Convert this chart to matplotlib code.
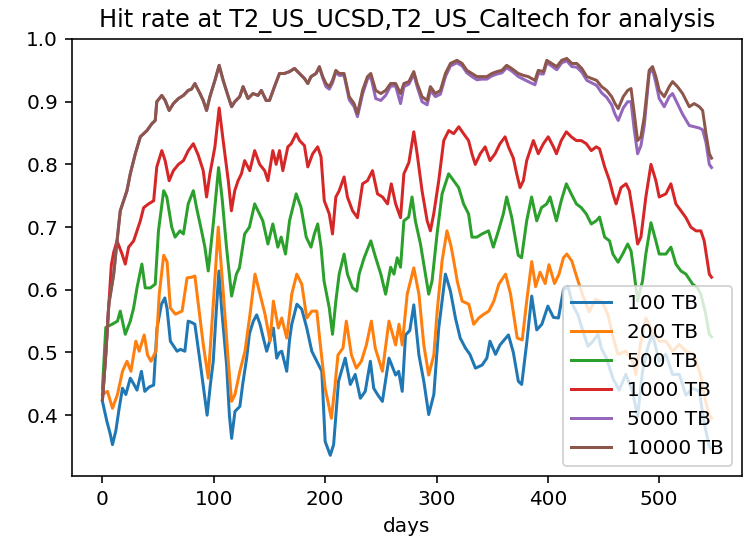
import matplotlib
matplotlib.use("Agg")
import matplotlib.pyplot as plt

# cache sizes shown in the legend
labels = ['100 TB', '200 TB', '500 TB', '1000 TB', '5000 TB', '10000 TB']

days_100 = [0, 4, 7, 9, 12, 15, 18, 21, 25, 28, 31, 35, 38, 42, 46, 49, 53, 56, 58, 61,
            64, 67, 70, 74, 77, 80, 83, 87.6, 91, 94, 97, 99.5, 102, 104.6, 107, 111.5, 114,
            116, 119, 123.4, 126, 129.5, 132, 135.5, 138.5, 141.5, 144.5, 147.5, 150.5, 153.5,
            156.5, 159, 161, 165.5, 168, 170, 174.6, 179, 183.5, 188, 192.5, 197, 200, 204.6,
            207.6, 212, 218, 222.6, 227, 231.6, 236, 240.6, 243.6, 247, 251.4, 257.3, 263.3,
            266, 269.2, 272.2, 276, 279.6, 284.2, 288.6, 293, 297.6, 302, 308, 312.5, 317,
            321.3, 326, 330, 335, 341, 345.2, 348, 353, 357, 364.6, 369, 373.5, 376.5, 381,
            385.5, 390, 394.6, 400, 405, 409.5, 414, 418, 422.6, 427, 431.5, 436, 440.5, 445,
            448, 452.6, 458.6, 464, 470, 476, 480.6, 485, 490, 494, 500, 506, 512, 518, 524,
            530, 536, 540.7, 545, 547]
hit_100 = [0.422, 0.39, 0.37, 0.353, 0.375, 0.411, 0.443, 0.433, 0.459, 0.45, 0.44, 0.47,
           0.438, 0.445, 0.448, 0.539, 0.577, 0.587, 0.57, 0.518, 0.51, 0.502, 0.505, 0.502,
           0.55, 0.548, 0.545, 0.486, 0.44, 0.40, 0.45, 0.486, 0.56, 0.63, 0.57, 0.48, 0.40,
           0.363, 0.406, 0.414, 0.45, 0.491, 0.53, 0.55, 0.56, 0.545, 0.523, 0.502, 0.52,
           0.539, 0.491, 0.50, 0.502, 0.47, 0.52, 0.545, 0.577, 0.569, 0.539, 0.502, 0.486,
           0.47, 0.358, 0.336, 0.353, 0.454, 0.491, 0.449, 0.465, 0.427, 0.438, 0.486, 0.443,
           0.433, 0.422, 0.491, 0.464, 0.47, 0.438, 0.528, 0.535, 0.576, 0.496, 0.454, 0.401,
           0.433, 0.539, 0.625, 0.598, 0.555, 0.523, 0.507, 0.497, 0.475, 0.48, 0.491, 0.518,
           0.497, 0.512, 0.528, 0.50, 0.454, 0.449, 0.515, 0.59, 0.536, 0.545, 0.574, 0.556,
           0.555, 0.60, 0.605, 0.575, 0.56, 0.534, 0.51, 0.518, 0.529, 0.507, 0.491, 0.458,
           0.44, 0.465, 0.438, 0.398, 0.47, 0.51, 0.529, 0.486, 0.497, 0.465, 0.465, 0.432,
           0.443, 0.438, 0.385, 0.35, 0.345]

days_200 = [0, 4.5, 9, 13.5, 18, 22, 25.6, 30, 33, 37.5, 40.5, 43.6, 48, 51, 55, 58, 61,
            65.5, 71.5, 76, 80, 83, 87.6, 90.6, 95, 99.5, 104, 108.6, 113, 116, 119, 123.4,
            128, 132.5, 137, 141.5, 146, 150.5, 153.5, 158, 161, 165.5, 170, 174.5, 179,
            183.5, 188, 192.5, 195, 200, 205.6, 208.6, 211.5, 216, 219, 223.6, 228, 232.5,
            237, 241.5, 245, 251.4, 257.3, 263.3, 266.3, 269.2, 273.7, 279.6, 284.2, 288.6,
            293, 297.6, 300.6, 305, 309.4, 313, 315.5, 318.6, 323, 329, 333.4, 338, 342.4,
            347, 351.5, 356, 362, 366.5, 372.5, 377, 381, 385.5, 389, 393, 397.6, 401, 406,
            410, 414, 417, 421.5, 426, 431, 437, 443, 449, 454, 458.5, 463, 470, 476, 479,
            483.6, 488, 494, 500, 506, 512, 518, 524, 531, 537, 541.6, 545, 547]
hit_200 = [0.433, 0.438, 0.411, 0.433, 0.47, 0.486, 0.47, 0.518, 0.502, 0.528, 0.496,
           0.486, 0.502, 0.593, 0.655, 0.645, 0.571, 0.561, 0.566, 0.619, 0.62, 0.622, 0.555,
           0.512, 0.459, 0.577, 0.70, 0.593, 0.486, 0.422, 0.433, 0.47, 0.502, 0.561, 0.625,
           0.593, 0.561, 0.518, 0.582, 0.539, 0.555, 0.523, 0.593, 0.625, 0.609, 0.555, 0.566,
           0.566, 0.523, 0.443, 0.395, 0.443, 0.496, 0.507, 0.55, 0.496, 0.475, 0.486, 0.512,
           0.55, 0.507, 0.47, 0.55, 0.512, 0.545, 0.512, 0.593, 0.635, 0.593, 0.512, 0.464,
           0.496, 0.566, 0.646, 0.694, 0.67, 0.646, 0.614, 0.582, 0.577, 0.545, 0.555, 0.561,
           0.566, 0.582, 0.609, 0.625, 0.593, 0.523, 0.52, 0.582, 0.645, 0.605, 0.628, 0.61,
           0.64, 0.61, 0.625, 0.651, 0.657, 0.646, 0.62, 0.593, 0.565, 0.585, 0.58, 0.56,
           0.525, 0.497, 0.502, 0.486, 0.465, 0.518, 0.555, 0.534, 0.518, 0.518, 0.502, 0.513,
           0.502, 0.497, 0.465, 0.422, 0.40, 0.395]

days_500 = [0, 3, 8.6, 13.5, 16, 20.5, 25, 28, 31, 35.4, 38.4, 43, 47.4, 50.3, 55, 57.8,
            62.2, 65.2, 69.6, 72.7, 77, 81.6, 84.5, 89, 92, 95, 99.5, 104.3, 107.5, 111.4,
            116, 120.3, 123, 127.7, 132, 136.7, 139.7, 144, 148.6, 153, 157.5, 160.5, 164.4,
            168, 174, 178.4, 183, 187.3, 190.3, 193.3, 196.3, 199, 203.7, 206.6, 209.6, 212.6,
            217, 220, 224.6, 228.4, 230.5, 235, 241, 245.4, 250, 254.3, 258.8, 261.8, 264.7,
            267.7, 270.7, 275, 278, 281, 285.6, 290, 293, 296, 300.5, 305, 310.9, 315.4,
            319.9, 324.3, 328.8, 331.8, 336.3, 340.8, 346.7, 351, 355.6, 360, 363, 367.5,
            373.4, 376.4, 381, 385.4, 390, 394.3, 399, 402, 407.7, 412, 416.6, 421, 425.6, 430,
            434.5, 439, 443.4, 446.4, 451, 455.4, 458.4, 463, 467.2, 471.7, 474.7, 477.6,
            480.6, 485, 488, 492.6, 497, 500, 506, 510.5, 515, 519.5, 524, 530, 534.4, 537.4,
            541.8, 545, 547]
hit_500 = [0.443, 0.54, 0.545, 0.55, 0.566, 0.529, 0.55, 0.571, 0.603, 0.641, 0.603, 0.603,
           0.609, 0.694, 0.758, 0.748, 0.70, 0.684, 0.694, 0.689, 0.737, 0.758, 0.731, 0.694,
           0.668, 0.63, 0.705, 0.795, 0.745, 0.668, 0.59, 0.625, 0.635, 0.689, 0.70, 0.737,
           0.726, 0.71, 0.673, 0.705, 0.668, 0.684, 0.657, 0.71, 0.753, 0.731, 0.684, 0.668,
           0.689, 0.705, 0.668, 0.614, 0.571, 0.529, 0.582, 0.625, 0.657, 0.625, 0.603, 0.598,
           0.625, 0.651, 0.678, 0.651, 0.625, 0.593, 0.636, 0.625, 0.651, 0.636, 0.71, 0.716,
           0.748, 0.71, 0.673, 0.625, 0.593, 0.614, 0.689, 0.753, 0.785, 0.774, 0.763, 0.737,
           0.721, 0.684, 0.684, 0.689, 0.694, 0.668, 0.694, 0.721, 0.748, 0.716, 0.655, 0.651,
           0.71, 0.748, 0.71, 0.731, 0.737, 0.748, 0.71, 0.742, 0.769, 0.753, 0.737, 0.731,
           0.721, 0.705, 0.71, 0.716, 0.684, 0.678, 0.657, 0.644, 0.657, 0.673, 0.662, 0.625,
           0.582, 0.614, 0.657, 0.707, 0.678, 0.657, 0.657, 0.668, 0.641, 0.63, 0.625, 0.609,
           0.603, 0.593, 0.561, 0.529, 0.525]

days_1000 = [0, 3, 5.7, 8, 10.1, 13.1, 17.6, 20.5, 23.5, 28, 31, 34, 37, 41.4, 46, 48.8,
             53.3, 56.3, 59.9, 63.7, 68.2, 72.7, 77.1, 81.6, 86, 90.5, 93.5, 96.5, 101, 104.8,
             108.4, 113, 115.8, 118.8, 121.8, 124.8, 127.7, 132.3, 136.7, 141.2, 145.7, 148.6,
             153, 156, 159, 162, 166.5, 169.5, 174, 177, 181.4, 184.4, 188.8, 193.3, 196.3,
             199.2, 203.7, 206.6, 209.6, 212.6, 217, 220, 224.6, 229, 233.6, 238, 242.5, 247,
             251.5, 256, 259.4, 263.3, 267.7, 270.7, 275.2, 279.6, 282.6, 287, 291.6, 294.5,
             297.5, 302, 306.5, 311, 315.4, 320, 324.3, 328.8, 331.8, 334.8, 339.3, 343.7, 348,
             352.6, 357, 361.6, 364.6, 369, 372, 375, 378, 381, 387, 391.4, 396, 400.3, 405,
             407.7, 412, 416.6, 421, 425.6, 430, 434.5, 439, 443.4, 446.4, 451, 455.4, 458.4,
             461.3, 465.7, 470.2, 473.2, 477.6, 480.6, 483.6, 488, 492.6, 497, 500, 506, 510.5,
             515, 519.5, 524, 528.4, 533, 537.4, 540.4, 545, 547]
hit_1000 = [0.425, 0.50, 0.577, 0.64, 0.66, 0.678, 0.657, 0.641, 0.668, 0.678, 0.694, 0.71,
            0.731, 0.737, 0.742, 0.796, 0.822, 0.806, 0.774, 0.79, 0.80, 0.806, 0.822, 0.833,
            0.815, 0.79, 0.748, 0.785, 0.828, 0.89, 0.838, 0.774, 0.726, 0.758, 0.774, 0.785,
            0.806, 0.79, 0.822, 0.80, 0.79, 0.774, 0.822, 0.80, 0.822, 0.79, 0.828, 0.833,
            0.849, 0.838, 0.83, 0.796, 0.817, 0.828, 0.812, 0.742, 0.721, 0.689, 0.748, 0.758,
            0.78, 0.748, 0.726, 0.715, 0.769, 0.774, 0.79, 0.753, 0.748, 0.737, 0.769, 0.737,
            0.715, 0.785, 0.803, 0.852, 0.817, 0.758, 0.71, 0.694, 0.721, 0.774, 0.838, 0.854,
            0.849, 0.86, 0.849, 0.838, 0.817, 0.80, 0.817, 0.828, 0.806, 0.817, 0.833, 0.844,
            0.828, 0.81, 0.785, 0.763, 0.774, 0.806, 0.838, 0.817, 0.833, 0.844, 0.828, 0.817,
            0.838, 0.852, 0.844, 0.838, 0.838, 0.833, 0.822, 0.828, 0.825, 0.796, 0.774, 0.753,
            0.737, 0.763, 0.769, 0.758, 0.71, 0.673, 0.684, 0.748, 0.80, 0.774, 0.748, 0.753,
            0.769, 0.737, 0.726, 0.715, 0.70, 0.694, 0.694, 0.678, 0.625, 0.62]

days_big = [0, 2.8, 5.7, 10.1, 13.1, 16, 19, 22, 25, 29.5, 34, 37, 40, 44.4, 47.4, 48.8,
            53.3, 56.3, 59.9, 63.7, 68.2, 72.7, 77, 80, 83, 87.6, 90.5, 93.5, 96.5, 101, 104.8,
            108.4, 113, 116, 118.8, 123.3, 126.3, 130.7, 135.2, 139.7, 142.7, 147, 150, 154.5,
            159, 163.4, 168, 172.5, 177, 181.4, 184.4, 187.3, 191.8, 194.8, 197.8, 200.7,
            203.7, 206.6, 209.6, 212.6, 217, 221.6, 226, 229, 233.6, 238, 241, 245.4, 250,
            254.3, 258.8, 263.3, 267.7, 270.7, 275.2, 279.6, 282.6, 287, 291.6, 294.5, 299,
            303.5, 308, 312.5, 318.4, 323, 327.3, 331.8, 336.3, 340.8, 345.2, 349.7, 354.2,
            358.7, 363, 367.5, 373.5, 378, 382.4, 388.4, 391.4, 396, 399, 403.4, 408, 412.4,
            417, 421.5, 426, 430.5, 435, 439.4, 443.8, 448.3, 452.8, 457.3, 460.3, 463.2,
            467.7, 471.7, 474.7, 477.6, 480.6, 483.6, 486.6, 491, 494, 497, 500, 504.5, 509,
            512, 516.4, 521, 527, 531.4, 536, 539, 542, 545, 547]
hit_10000 = [0.425, 0.491, 0.577, 0.625, 0.678, 0.726, 0.742, 0.758, 0.785, 0.817, 0.844,
             0.849, 0.854, 0.865, 0.87, 0.90, 0.91, 0.902, 0.886, 0.897, 0.905, 0.91, 0.918,
             0.92, 0.929, 0.913, 0.902, 0.886, 0.908, 0.934, 0.958, 0.934, 0.908, 0.892, 0.90,
             0.908, 0.924, 0.905, 0.913, 0.91, 0.918, 0.902, 0.902, 0.924, 0.945, 0.945, 0.948,
             0.953, 0.945, 0.937, 0.929, 0.94, 0.945, 0.956, 0.94, 0.929, 0.924, 0.934, 0.95,
             0.945, 0.945, 0.908, 0.897, 0.881, 0.918, 0.94, 0.945, 0.918, 0.913, 0.918, 0.929,
             0.929, 0.913, 0.929, 0.932, 0.948, 0.929, 0.908, 0.902, 0.924, 0.913, 0.918, 0.945,
             0.961, 0.966, 0.961, 0.95, 0.945, 0.94, 0.94, 0.94, 0.945, 0.948, 0.95, 0.958,
             0.953, 0.945, 0.942, 0.94, 0.934, 0.95, 0.948, 0.966, 0.961, 0.956, 0.966, 0.969,
             0.961, 0.961, 0.953, 0.94, 0.937, 0.934, 0.924, 0.918, 0.908, 0.897, 0.889, 0.908,
             0.918, 0.921, 0.881, 0.838, 0.844, 0.876, 0.95, 0.956, 0.94, 0.918, 0.908, 0.924,
             0.932, 0.924, 0.913, 0.892, 0.897, 0.892, 0.886, 0.849, 0.817, 0.81]
hit_5000 = [0.425, 0.491, 0.577, 0.625, 0.678, 0.726, 0.742, 0.758, 0.785, 0.817, 0.844,
            0.849, 0.854, 0.865, 0.87, 0.90, 0.91, 0.902, 0.886, 0.897, 0.905, 0.91, 0.918,
            0.92, 0.929, 0.913, 0.902, 0.886, 0.908, 0.934, 0.958, 0.934, 0.908, 0.892, 0.90,
            0.908, 0.924, 0.905, 0.913, 0.91, 0.918, 0.902, 0.902, 0.924, 0.945, 0.945, 0.948,
            0.953, 0.945, 0.937, 0.929, 0.94, 0.945, 0.955, 0.938, 0.924, 0.92, 0.93, 0.947,
            0.942, 0.942, 0.903, 0.892, 0.876, 0.912, 0.936, 0.94, 0.905, 0.902, 0.91, 0.925,
            0.925, 0.897, 0.924, 0.928, 0.944, 0.924, 0.90, 0.895, 0.918, 0.908, 0.912, 0.94,
            0.957, 0.962, 0.957, 0.946, 0.94, 0.935, 0.936, 0.936, 0.941, 0.944, 0.946, 0.954,
            0.949, 0.94, 0.936, 0.932, 0.927, 0.945, 0.944, 0.962, 0.957, 0.951, 0.962, 0.965,
            0.956, 0.955, 0.947, 0.934, 0.93, 0.926, 0.914, 0.907, 0.895, 0.88, 0.87, 0.89,
            0.90, 0.90, 0.855, 0.817, 0.83, 0.862, 0.945, 0.952, 0.93, 0.905, 0.892, 0.908,
            0.913, 0.897, 0.88, 0.862, 0.86, 0.858, 0.855, 0.835, 0.80, 0.795]

series = [
    (days_100, hit_100),
    (days_200, hit_200),
    (days_500, hit_500),
    (days_1000, hit_1000),
    (days_big, hit_5000),
    (days_big, hit_10000),
]

fig = plt.figure(figsize=(751 / 144, 539 / 144), dpi=144)
ax = fig.add_axes([72 / 751, 63 / 539, 670 / 751, 437 / 539])

for (d, h), lab in zip(series, labels):
    ax.plot(d, h, label=lab)

ax.set_ylim(0.303, 1.0)
ax.set_title('Hit rate at T2_US_UCSD,T2_US_Caltech for analysis')
ax.set_xlabel('days')
ax.legend(loc='lower right')

fig.savefig('out.png', dpi=144)
